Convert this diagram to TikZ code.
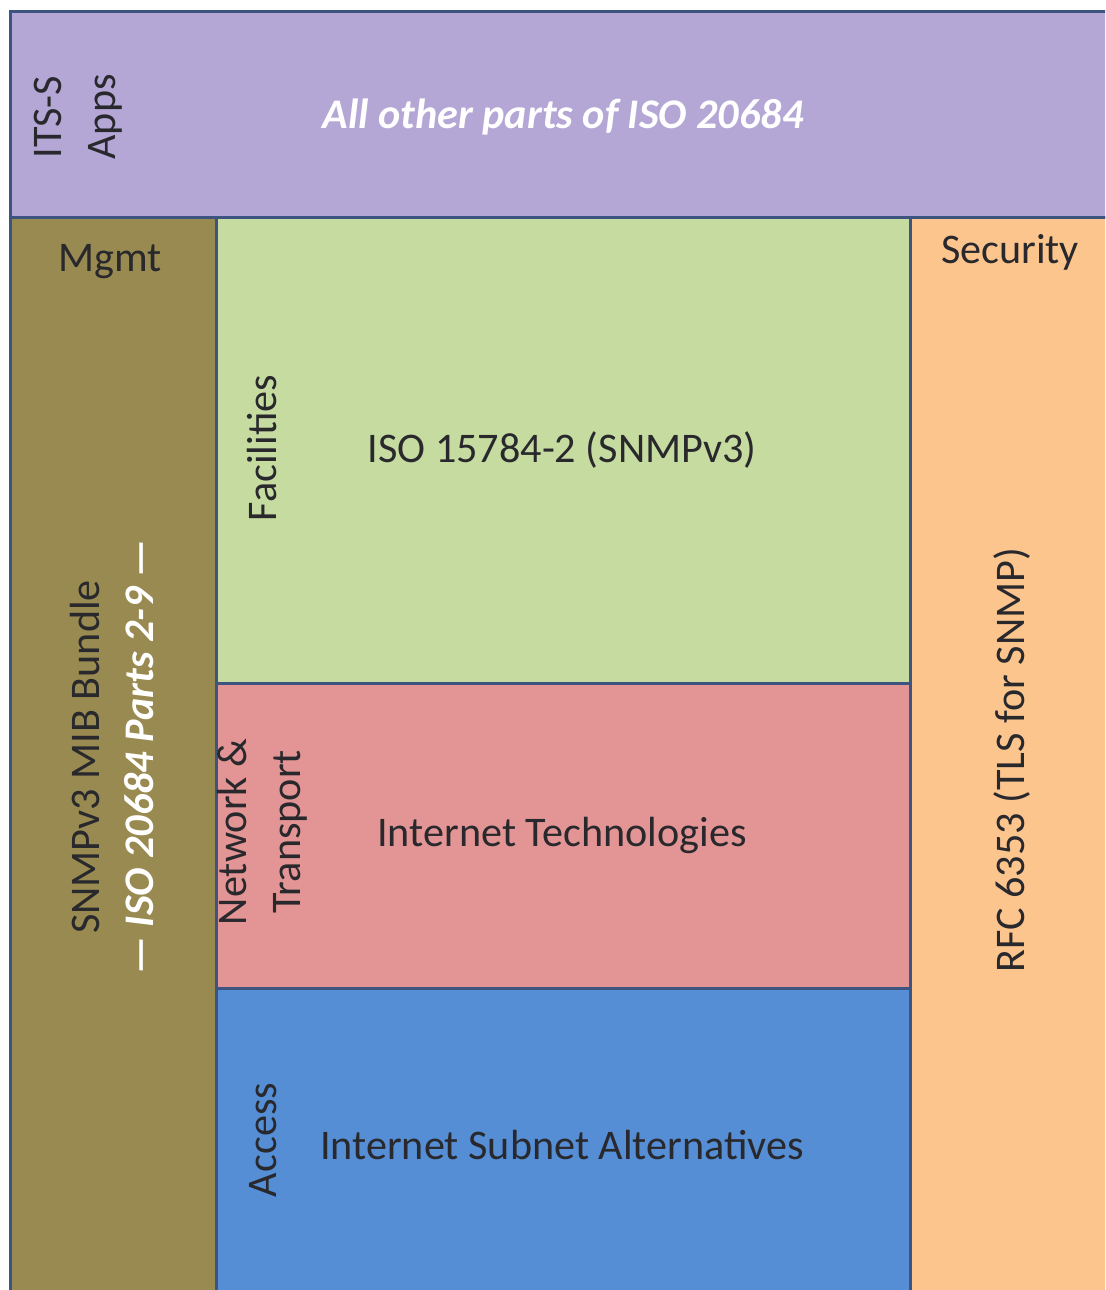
\documentclass[tikz,border=0pt]{standalone}
\usepackage{fontspec}
\setmainfont{Carlito}
\definecolor{appsviolet}{RGB}{180,167,214}
\definecolor{mgmtolive}{RGB}{152,138,80}
\definecolor{facgreen}{RGB}{198,219,160}
\definecolor{netred}{RGB}{226,149,148}
\definecolor{accblue}{RGB}{85,142,213}
\definecolor{secorange}{RGB}{252,197,142}
\definecolor{edgeblue}{RGB}{62,84,128}
\definecolor{inkgrey}{RGB}{40,40,45}
\tikzset{
  layer/.style={draw=edgeblue, line width=0.3mm},
  lbl/.style={font=\fontsize{12}{15.5}\selectfont, text=inkgrey, align=center, inner sep=0pt},
  side/.style={lbl, rotate=90},
  whitetitle/.style={font=\fontsize{12}{15.5}\selectfont\bfseries\itshape, text=white, inner sep=0pt}
}

\begin{document}
\begin{tikzpicture}[x=0.1mm, y=-0.1mm]
  %%%%% START %%%%%
  \clip (0,0) rectangle (1105,1290);
  \fill[white] (0,0) rectangle (1105,1290);

  % layers
  \draw[layer, fill=appsviolet] (10,12) rectangle (1120,218);
  \draw[layer, fill=mgmtolive] (10,218) rectangle (216,1300);
  \draw[layer, fill=facgreen] (216,218) rectangle (910,683);
  \draw[layer, fill=netred] (216,683) rectangle (910,988);
  \draw[layer, fill=accblue] (216,988) rectangle (910,1300);
  \draw[layer, fill=secorange] (910,218) rectangle (1120,1300);

  % apps
  \node[side] (apps) at (78,117) {ITS-S\\Apps};
  \node[whitetitle] (otherparts) at (563,117) {All other parts of ISO 20684};

  % management
  \node[lbl] (mgmt) at (110,262) {Mgmt};
  \node[side] (bundle) at (112,757) {SNMPv3 MIB Bundle\\{\color{white}\bfseries\itshape --- ISO 20684 Parts 2-9 ---}};

  % facilities
  \node[side] (facilities) at (262,448) {Facilities};
  \node[lbl] (snmp) at (562,450) {ISO 15784-2 (SNMPv3)};

  % network and transport
  \node[side] (nettrans) at (262,832) {Network \&\\Transport};
  \node[lbl] (inettech) at (562,835) {Internet Technologies};

  % access
  \node[side] (access) at (263,1140) {Access};
  \node[lbl] (subnets) at (562,1145) {Internet Subnet Alternatives};

  % security
  \node[lbl] (security) at (1010,252) {Security};
  \node[side] (rfc) at (1012,760) {RFC 6353 (TLS for SNMP)};
  %%%%% END %%%%%
\end{tikzpicture}
\end{document}
